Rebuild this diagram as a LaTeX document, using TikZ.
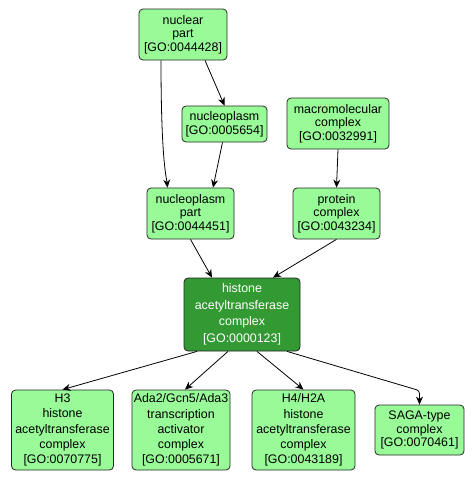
\documentclass[tikz,border=0pt]{standalone}
\usepackage{fontspec}
\setmainfont{Liberation Sans}
\usetikzlibrary{arrows.meta}
\definecolor{lightgo}{HTML}{98FB98}
\definecolor{darkgo}{HTML}{339933}
\begin{document}
\begin{tikzpicture}[x=1pt,y=-1pt,
  goterm/.style={draw=black!85, line width=0.8pt, rounded corners=4pt, fill=lightgo,
    align=center, inner sep=0pt, font={\fontsize{12.4}{13.6}\selectfont}},
  tall/.style={font={\fontsize{12.4}{15.2}\selectfont}},
  mainterm/.style={goterm, fill=darkgo, text=white, font={\fontsize{12.4}{16.5}\selectfont}},
  edge/.style={draw=black, line width=0.8pt, -{Stealth[length=8pt,width=7pt,inset=2.5pt]}}]
\useasboundingbox (0,0) rectangle (472,480);
\node[goterm, minimum width=88pt, minimum height=51pt] (np) at (183,34.5) {nuclear\\part\\{[GO:0044428]}};
\node[goterm, minimum width=85pt, minimum height=36pt] (nucl) at (224.5,124) {nucleoplasm\\{[GO:0005654]}};
\node[goterm, minimum width=102pt, minimum height=51pt] (mc) at (338,123.5) {macromolecular\\complex\\{[GO:0032991]}};
\node[goterm, minimum width=87pt, minimum height=51pt] (npp) at (190.5,213.5) {nucleoplasm\\part\\{[GO:0044451]}};
\node[goterm, minimum width=87pt, minimum height=51pt] (pc) at (336.5,213.5) {protein\\complex\\{[GO:0043234]}};
\node[mainterm, minimum width=116pt, minimum height=73pt] (hat) at (242,314.5) {histone\\acetyltransferase\\complex\\{[GO:0000123]}};
\node[goterm, tall, minimum width=102pt, minimum height=80pt] (h3) at (62.5,430) {H3\\histone\\acetyltransferase\\complex\\{[GO:0070775]}};
\node[goterm, tall, minimum width=98pt, minimum height=80pt] (ada) at (181,430) {Ada2/Gcn5/Ada3\\transcription\\activator\\complex\\{[GO:0005671]}};
\node[goterm, tall, minimum width=103pt, minimum height=80pt] (h4) at (303.5,430) {H4/H2A\\histone\\acetyltransferase\\complex\\{[GO:0043189]}};
\node[goterm, minimum width=89pt, minimum height=50pt] (saga) at (419.5,430) {SAGA-type\\complex\\{[GO:0070461]}};
\draw[edge] ([xshift=-22pt]np.south) .. controls +(0,100) and +(-1,-10) .. ([xshift=-23pt]npp.north);
\draw[edge] ([xshift=22pt]np.south) -- (nucl.north);
\draw[edge] ([xshift=-2pt]nucl.south) -- ([xshift=22.5pt]npp.north);
\draw[edge] (mc.south) -- (pc.north);
\draw[edge] (npp.south) -- ([xshift=-30pt]hat.north);
\draw[edge] (pc.south) -- ([xshift=31pt]hat.north);
\draw[edge] ([xshift=-45pt]hat.south) -- (h3.north);
\draw[edge] ([xshift=-14pt]hat.south) -- ([xshift=4pt]ada.north);
\draw[edge] ([xshift=15pt]hat.south) -- (h4.north);
\draw[edge, rounded corners=3pt] ([xshift=45pt]hat.south) -- ([yshift=14pt]saga.north) -- (saga.north);
\end{tikzpicture}
\end{document}
